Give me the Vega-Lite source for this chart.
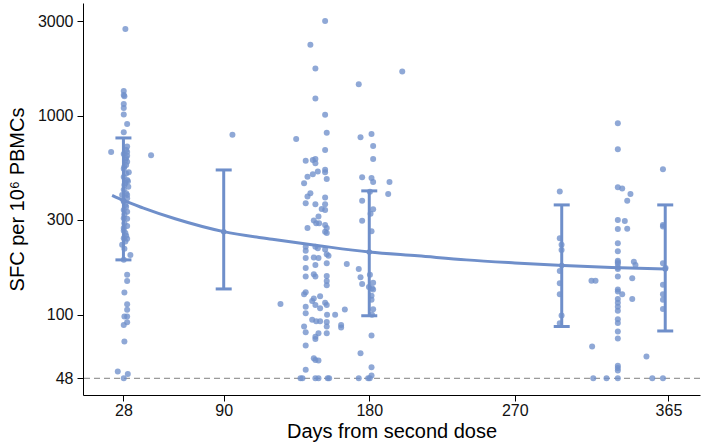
{
  "$schema": "https://vega.github.io/schema/vega-lite/v6.json",
  "width": 617,
  "height": 392,
  "autosize": {"type": "none"},
  "padding": {"left": 83, "top": 3, "right": 5, "bottom": 53},
  "background": "white",
  "config": {
    "view": {"stroke": null},
    "axis": {
      "domainColor": "#000000", "tickColor": "#000000", "labelColor": "#111111", "titleColor": "#000000",
      "labelFont": "Liberation Sans", "titleFont": "Liberation Sans", "labelFontSize": 16, "titleFontSize": 20,
      "titleFontWeight": "normal", "grid": false, "tickSize": 6, "domainWidth": 1, "tickWidth": 1
    }
  },
  "datasets": {
    "points": [
      {"day":29.2,"sfc":2737},{"day":28.2,"sfc":1335},{"day":28.2,"sfc":1275},{"day":28.6,"sfc":1256},{"day":28.2,"sfc":1149},{"day":28.2,"sfc":1097},{"day":28.2,"sfc":1017},{"day":30.3,"sfc":911},{"day":28.2,"sfc":828},{"day":20.4,"sfc":659},{"day":45.1,"sfc":635},
      {"day":30.3,"sfc":701},{"day":29.7,"sfc":675},{"day":30.3,"sfc":659},{"day":28.2,"sfc":644},{"day":30.3,"sfc":630},{"day":29.7,"sfc":615},{"day":29.2,"sfc":600},{"day":30.3,"sfc":589},{"day":29.7,"sfc":567},{"day":28.6,"sfc":555},{"day":28.2,"sfc":542},{"day":31.3,"sfc":521},{"day":29.7,"sfc":514},{"day":28.2,"sfc":493},{"day":30.3,"sfc":476},{"day":30.8,"sfc":470},{"day":29.2,"sfc":460},{"day":28.6,"sfc":450},{"day":31,"sfc":440},{"day":28.2,"sfc":425},{"day":29.7,"sfc":409},{"day":27.2,"sfc":401},{"day":30.3,"sfc":401},{"day":30.3,"sfc":386},{"day":28.2,"sfc":371},{"day":29.2,"sfc":357},{"day":29.7,"sfc":350},{"day":28.2,"sfc":337},{"day":30.3,"sfc":330},{"day":28.6,"sfc":320},{"day":28.2,"sfc":306},{"day":30.3,"sfc":304},{"day":28.6,"sfc":289},{"day":30.3,"sfc":280},{"day":28.2,"sfc":273},{"day":28.2,"sfc":265},{"day":29.2,"sfc":258},{"day":29.7,"sfc":250},{"day":28.2,"sfc":243},{"day":30.3,"sfc":241},{"day":29.2,"sfc":234},{"day":27.2,"sfc":225},{"day":28.6,"sfc":215},{"day":32.3,"sfc":200},{"day":28.2,"sfc":189},
      {"day":30.3,"sfc":159},{"day":30.3,"sfc":148},{"day":28.6,"sfc":129.5},{"day":30.3,"sfc":113},{"day":30.3,"sfc":106},{"day":28.6,"sfc":98},{"day":30.3,"sfc":98},{"day":30.3,"sfc":91.9},{"day":28.2,"sfc":89},{"day":28.6,"sfc":73.4},{"day":24.5,"sfc":51.9},{"day":30.7,"sfc":50.5},{"day":28.2,"sfc":48},
      {"day":95.4,"sfc":805},
      {"day":152.7,"sfc":3000},{"day":143.6,"sfc":2281},{"day":146.7,"sfc":1729},{"day":146.7,"sfc":1222},{"day":152.7,"sfc":1015},{"day":153.7,"sfc":824},{"day":134.8,"sfc":766},{"day":152.7,"sfc":675},{"day":140.7,"sfc":596},{"day":145.1,"sfc":600},{"day":146.7,"sfc":608},{"day":146.7,"sfc":579},{"day":152.7,"sfc":536},{"day":152.7,"sfc":521},{"day":148.2,"sfc":525},{"day":145.1,"sfc":509},{"day":141.8,"sfc":495},{"day":153.7,"sfc":482},{"day":139.7,"sfc":459},{"day":143.6,"sfc":409},{"day":141.8,"sfc":393},{"day":152.7,"sfc":389},{"day":140.7,"sfc":364},{"day":146.7,"sfc":360},{"day":152.7,"sfc":360},
      {"day":150.6,"sfc":341},{"day":152.7,"sfc":337},{"day":148.6,"sfc":312},{"day":145.7,"sfc":298},{"day":147.2,"sfc":289},{"day":149,"sfc":289},{"day":152.7,"sfc":283},{"day":141.8,"sfc":273},{"day":153.7,"sfc":273},{"day":152.7,"sfc":262},{"day":153.7,"sfc":258},
      {"day":140.7,"sfc":220},{"day":146.7,"sfc":220},{"day":148.2,"sfc":216},{"day":140.7,"sfc":210},{"day":152.7,"sfc":213},{"day":153.7,"sfc":202},{"day":154.8,"sfc":198},{"day":140.7,"sfc":193},{"day":145.7,"sfc":194},{"day":148.6,"sfc":193},{"day":146.7,"sfc":178},{"day":140.7,"sfc":172},{"day":153.7,"sfc":182},{"day":166.1,"sfc":180},{"day":145.7,"sfc":160},{"day":146.7,"sfc":156},{"day":140.7,"sfc":156},{"day":153.7,"sfc":157},{"day":153.7,"sfc":148},{"day":153.7,"sfc":141},{"day":140.7,"sfc":130},{"day":139.7,"sfc":127},{"day":145.7,"sfc":121},{"day":149.6,"sfc":124},{"day":125.1,"sfc":113.5},{"day":144.7,"sfc":117.5},{"day":146.7,"sfc":112},{"day":149.6,"sfc":108},{"day":140.7,"sfc":110},{"day":152.7,"sfc":115},{"day":153.7,"sfc":112},{"day":164.9,"sfc":106.5},{"day":140.7,"sfc":102},{"day":153.9,"sfc":100},{"day":158.9,"sfc":100},{"day":144.7,"sfc":94.4},{"day":147.2,"sfc":93},{"day":149.6,"sfc":93},{"day":139.7,"sfc":87.3},{"day":153.7,"sfc":92},{"day":153.7,"sfc":87.3},{"day":162.6,"sfc":89},{"day":162.6,"sfc":86.5},{"day":140.7,"sfc":81.8},{"day":148.6,"sfc":80.8},{"day":146.7,"sfc":77.7},{"day":146.7,"sfc":75.6},{"day":153.7,"sfc":80.8},{"day":140.7,"sfc":70.2},{"day":145.7,"sfc":60.6},{"day":146.7,"sfc":59.4},{"day":148.6,"sfc":59},{"day":140.7,"sfc":53},{"day":137.5,"sfc":48},{"day":138.7,"sfc":48},{"day":146.7,"sfc":48},{"day":148.6,"sfc":48},{"day":154.3,"sfc":48},{"day":155.2,"sfc":48},
      {"day":200.4,"sfc":1670},{"day":173.5,"sfc":1443},{"day":174.6,"sfc":781},{"day":181.4,"sfc":812},{"day":182.4,"sfc":707},{"day":182.4,"sfc":608},{"day":175.6,"sfc":492},{"day":181.4,"sfc":487},{"day":182.4,"sfc":466},{"day":192.5,"sfc":466},{"day":191.7,"sfc":405},{"day":180.4,"sfc":416},{"day":175.6,"sfc":375},{"day":182.4,"sfc":340},{"day":180.8,"sfc":322},{"day":181.4,"sfc":263},{"day":175.6,"sfc":297},{"day":173.5,"sfc":170},{"day":174.6,"sfc":154.5},{"day":175.6,"sfc":143},{"day":180.4,"sfc":159},{"day":182.4,"sfc":145},{"day":179.8,"sfc":138},{"day":181.7,"sfc":136},{"day":182.4,"sfc":134},{"day":181.4,"sfc":124.6},{"day":181.4,"sfc":119},{"day":182.4,"sfc":106.8},{"day":181.7,"sfc":100},{"day":181.4,"sfc":78.7},{"day":174.6,"sfc":64.2},{"day":181.4,"sfc":54.6},{"day":181.4,"sfc":49.6},{"day":173.5,"sfc":48},{"day":179.3,"sfc":48},{"day":180.3,"sfc":48},
      {"day":297.8,"sfc":417},{"day":297.8,"sfc":243},{"day":298.9,"sfc":225},{"day":298.9,"sfc":212},{"day":297.8,"sfc":166},{"day":297.8,"sfc":144},{"day":297.8,"sfc":127},{"day":298.9,"sfc":99.2},{"day":297.8,"sfc":90.8},
      {"day":317.4,"sfc":148.6},{"day":319.9,"sfc":148.6},{"day":317.8,"sfc":69.3},{"day":318.5,"sfc":48},{"day":326.7,"sfc":48},
      {"day":333.7,"sfc":48},{"day":333.7,"sfc":54},{"day":333.7,"sfc":55.5},{"day":333.7,"sfc":52.6},{"day":333.7,"sfc":919},{"day":333.7,"sfc":680},{"day":333.7,"sfc":438},{"day":336.4,"sfc":432},{"day":341.5,"sfc":405},{"day":339.5,"sfc":375},{"day":333.7,"sfc":300},{"day":338,"sfc":296},{"day":333.7,"sfc":270},{"day":339.5,"sfc":271},{"day":333.7,"sfc":229},{"day":333.7,"sfc":209},{"day":333.7,"sfc":187},{"day":333.7,"sfc":184},{"day":333.7,"sfc":180},{"day":333.7,"sfc":173},{"day":333.7,"sfc":170},{"day":333.7,"sfc":156},{"day":343.6,"sfc":185},{"day":344.6,"sfc":178},{"day":342.6,"sfc":153},{"day":333.7,"sfc":134},{"day":333.7,"sfc":131},{"day":336.4,"sfc":127},{"day":342.6,"sfc":120},{"day":333.7,"sfc":120},{"day":333.7,"sfc":115},{"day":333.7,"sfc":110},{"day":333.7,"sfc":105},{"day":333.7,"sfc":95},{"day":333.7,"sfc":91},{"day":333.7,"sfc":82.5},{"day":333.7,"sfc":76},{"day":351.4,"sfc":61.7},{"day":355,"sfc":48},
      {"day":361.6,"sfc":540},{"day":361.6,"sfc":283},{"day":361.6,"sfc":278},{"day":361.6,"sfc":182},{"day":363.2,"sfc":172},{"day":361.6,"sfc":141.6},{"day":361.6,"sfc":127},{"day":361.6,"sfc":119},{"day":361.6,"sfc":107},{"day":361.6,"sfc":48}
    ],
    "curve": [
      {"day":21,"sfc":399},{"day":28,"sfc":376},{"day":40,"sfc":345},{"day":60,"sfc":304},{"day":90,"sfc":262},{"day":120,"sfc":240},{"day":150,"sfc":222},{"day":180,"sfc":207},{"day":210,"sfc":198},{"day":240,"sfc":189},{"day":270,"sfc":182.5},{"day":300,"sfc":177},{"day":330,"sfc":173},{"day":363,"sfc":170}
    ],
    "summary": [
      {"day":28,"mean":376,"lo":189,"hi":775},
      {"day":90,"mean":262,"lo":135,"hi":535},
      {"day":180,"mean":207,"lo":99,"hi":420},
      {"day":299,"mean":177,"lo":87.4,"hi":357},
      {"day":363,"mean":170,"lo":83,"hi":357}
    ]
  },
  "layer": [
    {
      "data": {"values": [{"sfc": 48}]},
      "mark": {"type": "rule", "color": "#808080", "strokeDash": [6, 4], "strokeWidth": 1},
      "encoding": {
        "y": {"field": "sfc", "type": "quantitative", "title": "SFC per 10⁶ PBMCs",
          "scale": {"type": "log", "domain": [39.56, 3695], "nice": false, "zero": false},
          "axis": {"values": [48, 100, 300, 1000, 3000], "format": "d", "labelPadding": 4, "titlePadding": 10}}
      }
    },
    {
      "data": {"name": "points"},
      "mark": {"type": "circle", "size": 36, "color": "#6f8fca", "opacity": 0.78},
      "encoding": {
        "x": {"field": "day", "type": "quantitative", "title": "Days from second dose",
          "scale": {"domain": [3, 384.5], "nice": false, "zero": false},
          "axis": {"values": [28, 90, 180, 270, 365], "format": "d", "labelPadding": 1, "titlePadding": 3}},
        "y": {"field": "sfc", "type": "quantitative", "title": "SFC per 10⁶ PBMCs"}
      }
    },
    {
      "data": {"name": "curve"},
      "mark": {"type": "line", "color": "#6f8fca", "strokeWidth": 3, "interpolate": "monotone"},
      "encoding": {
        "x": {"field": "day", "type": "quantitative", "title": "Days from second dose"},
        "y": {"field": "sfc", "type": "quantitative", "title": "SFC per 10⁶ PBMCs"}
      }
    },
    {
      "data": {"name": "summary"},
      "mark": {"type": "rule", "color": "#6f8fca", "strokeWidth": 3},
      "encoding": {
        "x": {"field": "day", "type": "quantitative", "title": "Days from second dose"},
        "y": {"field": "lo", "type": "quantitative", "title": "SFC per 10⁶ PBMCs"},
        "y2": {"field": "hi"}
      }
    },
    {
      "data": {"name": "summary"},
      "mark": {"type": "tick", "orient": "horizontal", "color": "#6f8fca", "size": 16, "thickness": 3, "opacity": 1},
      "encoding": {
        "x": {"field": "day", "type": "quantitative", "title": "Days from second dose"},
        "y": {"field": "lo", "type": "quantitative", "title": "SFC per 10⁶ PBMCs"}
      }
    },
    {
      "data": {"name": "summary"},
      "mark": {"type": "tick", "orient": "horizontal", "color": "#6f8fca", "size": 16, "thickness": 3, "opacity": 1},
      "encoding": {
        "x": {"field": "day", "type": "quantitative", "title": "Days from second dose"},
        "y": {"field": "hi", "type": "quantitative", "title": "SFC per 10⁶ PBMCs"}
      }
    },
    {
      "data": {"name": "summary"},
      "mark": {"type": "circle", "color": "#6f8fca", "size": 30, "opacity": 1},
      "encoding": {
        "x": {"field": "day", "type": "quantitative", "title": "Days from second dose"},
        "y": {"field": "mean", "type": "quantitative", "title": "SFC per 10⁶ PBMCs"}
      }
    }
  ]
}
